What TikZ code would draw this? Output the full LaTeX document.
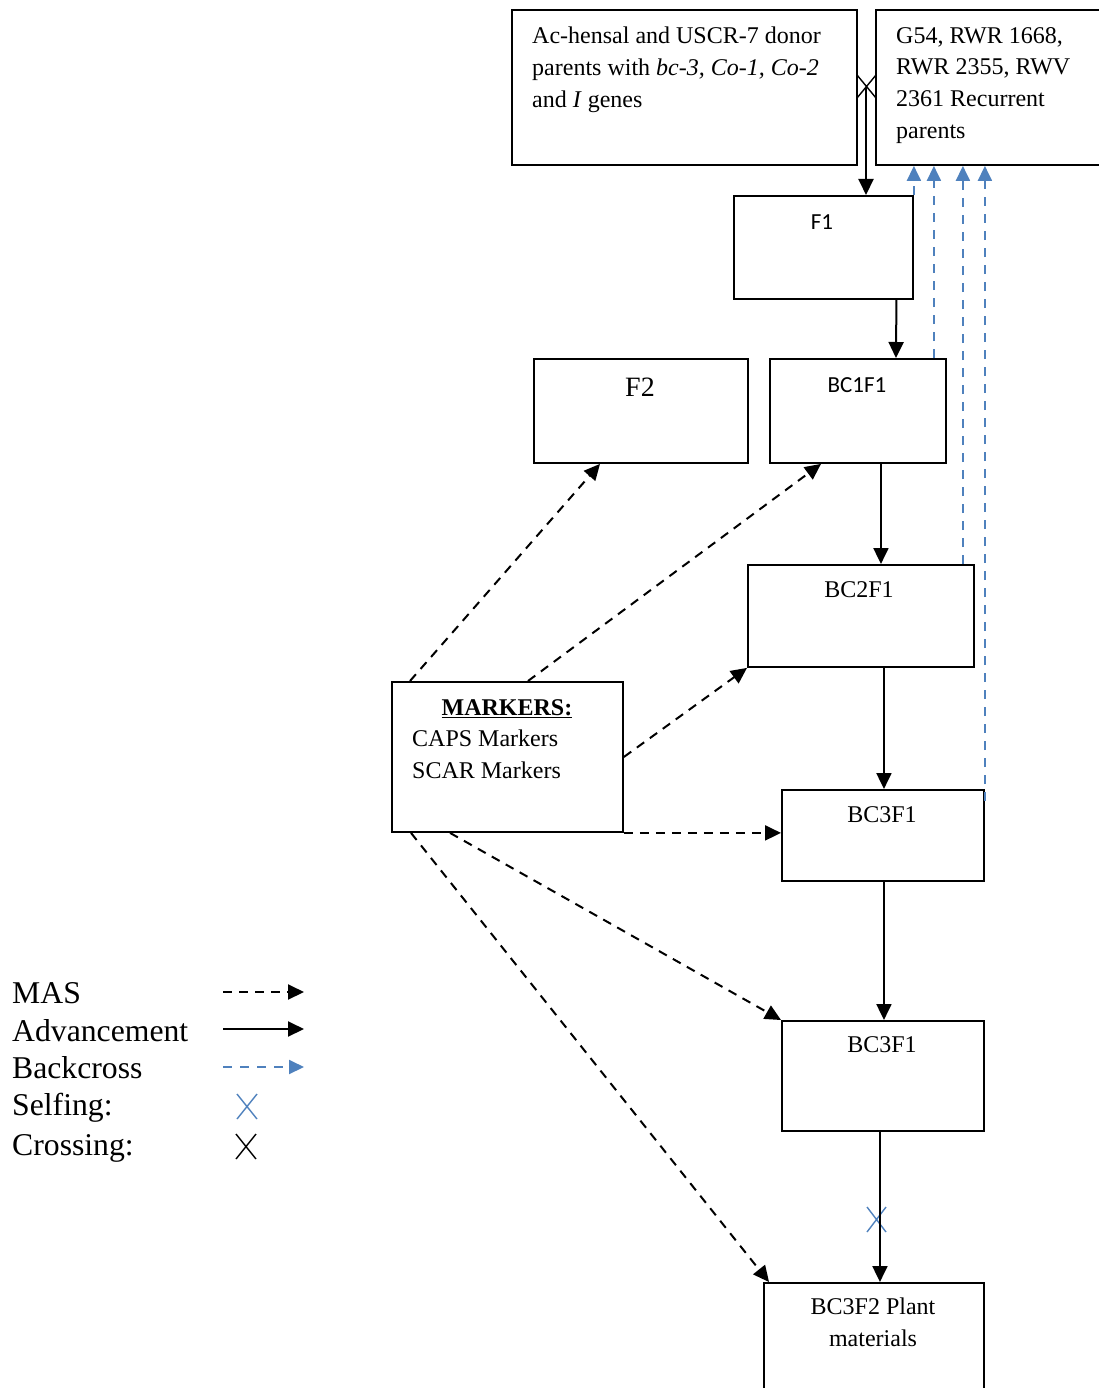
\documentclass[tikz,border=0pt]{standalone}
\usepackage{fontspec}
\setmainfont{Liberation Serif}
\newfontfamily\calibfont{Carlito}
\usepackage{xcolor}
\usetikzlibrary{arrows.meta}
\definecolor{bcblue}{RGB}{79,129,189}

\begin{document}
\begin{tikzpicture}[
    x=1pt, y=-1pt,
    box/.style={rectangle, draw, line width=1.9pt, inner sep=0pt, anchor=north west},
    boxtext/.style={font=\fontsize{24}{31.7}\selectfont, inner sep=0pt, align=left},
    sanstext/.style={font=\calibfont\fontsize{23}{28}\selectfont, inner sep=0pt},
    legtext/.style={font=\fontsize{31.7}{37}\selectfont, inner sep=0pt, anchor=base west},
    adv/.style={-{Triangle[length=16pt, width=15pt]}, line width=2pt},
    mas/.style={-{Triangle[length=16pt, width=15pt]}, line width=2pt, dash pattern=on 9pt off 7pt},
    bcross/.style={-{Triangle[length=15pt, width=14pt]}, line width=2pt, color=bcblue, dash pattern=on 9pt off 8pt},
    markx/.style={line width=1.4pt}
]

\useasboundingbox (0,0) rectangle (1099,1388);

% parents
\node[box, minimum width=345pt, minimum height=155pt] (donor) at (511,9) {};
\node[box, minimum width=230pt, minimum height=155pt] (recur) at (875,9) {};
\node[boxtext, anchor=north west] (donortext) at (532,27)
    {Ac-hensal and USCR-7 donor\\ parents with \textit{bc-3, Co-1, Co-2}\\ and \textit{I} genes};
\node[boxtext, anchor=north west] (recurtext) at (896,27)
    {G54, RWR 1668,\\ RWR 2355, RWV\\ 2361 Recurrent\\ parents};

% generations
\node[box, minimum width=179pt, minimum height=103pt] (F1) at (733,195) {};
\node[box, minimum width=214pt, minimum height=104pt] (F2) at (533,358) {};
\node[box, minimum width=176pt, minimum height=104pt] (BC1F1) at (769,358) {};
\node[box, minimum width=226pt, minimum height=102pt] (BC2F1) at (747,564) {};
\node[box, minimum width=202pt, minimum height=91pt] (BC3F1a) at (781,789) {};
\node[box, minimum width=202pt, minimum height=110pt] (BC3F1b) at (781,1020) {};
\node[box, minimum width=220pt, minimum height=112pt] (BC3F2) at (763,1282) {};
\node[box, minimum width=231pt, minimum height=150pt] (markers) at (391,681) {};

\node[sanstext] (F1text) at (822,222) {F1};
\node[boxtext, font=\fontsize{28}{32}\selectfont] (F2text) at (640,387) {F2};
\node[sanstext] (BC1F1text) at (857,385) {BC1F1};
\node[boxtext] (BC2F1text) at (859,590) {BC2F1};
\node[boxtext] (BC3F1atext) at (882,815) {BC3F1};
\node[boxtext] (BC3F1btext) at (882,1045) {BC3F1};
\node[boxtext, align=center] (BC3F2text) at (873,1322) {BC3F2 Plant\\ materials};
\node[boxtext, anchor=base, font=\bfseries\fontsize{24}{32}\selectfont] (markershead) at (507,715) {\underline{MARKERS:}};
\node[boxtext, anchor=north west] (markerstext) at (412,730) {CAPS Markers\\ SCAR Markers};

% crossing and selfing marks
\coordinate (crossmark) at (866,87);
\draw[markx] (857,75) -- (876,98) (857,98) -- (876,75);
\coordinate (selfmark) at (876,1219);
\draw[markx, bcblue] (867,1207) -- (886,1232) (867,1232) -- (886,1207);

% advancement
\draw[adv] (crossmark) -- (crossmark |- F1.north);
\draw[adv] ([xshift=73pt]F1.south) -- ([xshift=38pt]BC1F1.north);
\draw[adv] ([xshift=23pt]BC1F1.south) -- ([xshift=23pt]BC1F1.south |- BC2F1.north);
\draw[adv] ([xshift=23pt]BC2F1.south) -- ([xshift=23pt]BC2F1.south |- BC3F1a.north);
\draw[adv] ([xshift=1pt]BC3F1a.south) -- ([xshift=1pt]BC3F1b.north);
\draw[adv] ([xshift=-3pt]BC3F1b.south) -- ([xshift=-3pt]BC3F1b.south |- BC3F2.north);

% backcross
\draw[bcross] (F1.north east) -- (F1.north east |- recur.south);
\draw[bcross] ([xshift=-13pt]BC1F1.north east) -- ([xshift=-13pt]BC1F1.north east |- recur.south);
\draw[bcross] ([xshift=-12pt]BC2F1.north east) -- ([xshift=-12pt]BC2F1.north east |- recur.south);
\draw[bcross] ([yshift=-12pt]BC3F1a.north east) -- (BC3F1a.north east |- recur.south);

% MAS
\draw[mas] ([xshift=19pt]markers.north west) -- ([xshift=67pt]F2.south west);
\draw[mas] ([xshift=137pt]markers.north west) -- ([xshift=52pt]BC1F1.south west);
\draw[mas] (markers.east) -- (BC2F1.south west);
\draw[mas] (markers.south east) -- (markers.south east -| BC3F1a.west);
\draw[mas] ([xshift=59pt]markers.south west) -- (BC3F1b.north west);
\draw[mas] ([xshift=20pt]markers.south west) -- ([xshift=6pt]BC3F2.north west);

% legend
\node[legtext] (legmas) at (12,1003) {MAS};
\node[legtext] (legadv) at (12,1041) {Advancement};
\node[legtext] (legback) at (12,1078) {Backcross};
\node[legtext] (legself) at (12,1115) {Selfing:};
\node[legtext] (legcross) at (12,1155) {Crossing:};

\coordinate (masfrom) at (223,992);
\coordinate (masto) at (304,992);
\coordinate (advfrom) at (223,1029);
\coordinate (advto) at (304,1029);
\coordinate (backfrom) at (223,1067);
\coordinate (backto) at (304,1067);
\draw[mas] (masfrom) -- (masto);
\draw[adv] (advfrom) -- (advto);
\draw[bcross] (backfrom) -- (backto);
\draw[markx, bcblue] (237,1094) -- (257,1119) (237,1119) -- (257,1094);
\draw[markx] (236,1134) -- (256,1159) (236,1159) -- (256,1134);

\end{tikzpicture}
\end{document}
